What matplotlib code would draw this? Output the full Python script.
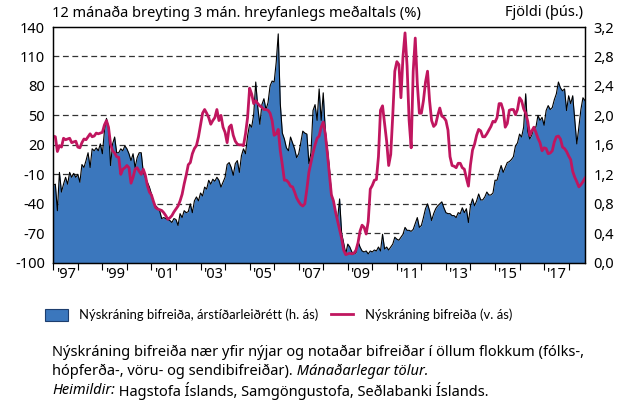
import numpy as np
import matplotlib
matplotlib.use('Agg')
import matplotlib.pyplot as plt
from matplotlib.patches import Patch
from matplotlib.lines import Line2D

plt.rcParams['font.family'] = ['Noto Sans', 'DejaVu Sans']
plt.rcParams['font.size'] = 10
plt.rcParams['lines.scale_dashes'] = False

# monthly data, Jan 1997 - Sep 2018
start_year = 1997

# new registrations, seasonally adjusted, 12-month change of 3-month MA (%)
area_pct = [
    -21, -20, -47, -8, -28, -20, -13, -20, -8, -13, -9, -13,
    -10, -18, 0, -3, 4, 12, -3, 16, 14, 17, 14, 21,
    11, 34, 47, 38, -1, 21, 28, 12, 12, 16, 14, 19,
    16, 11, 4, 11, -3, 7, 12, 12, -8, -13, -18, -23,
    -30, -38, -42, -44, -47, -55, -54, -55, -56, -57, -59, -55,
    -56, -62, -50, -54, -47, -49, -48, -40, -49, -37, -33, -37,
    -29, -32, -23, -25, -16, -20, -15, -17, -13, -16, -23, -18,
    -13, 0, 2, -3, -11, 1, 4, -8, 9, 16, 11, 29,
    41, 38, 51, 84, 58, 41, 61, 67, 56, 63, 80, 85,
    84, 104, 133, 62, 32, 26, 17, 14, 28, 22, 16, 7,
    11, 22, 34, 32, 31, 1, 12, 55, 61, 45, 77, 45,
    73, 35, 17, -3, -30, -37, -47, -56, -35, -70, -80, -91,
    -81, -84, -89, -91, -90, -78, -84, -88, -89, -88, -91, -88,
    -89, -87, -88, -84, -88, -71, -86, -84, -87, -84, -81, -74,
    -76, -77, -74, -71, -64, -67, -67, -68, -66, -60, -54, -64,
    -62, -54, -45, -40, -47, -57, -50, -45, -42, -40, -38, -44,
    -49, -50, -50, -52, -52, -54, -49, -50, -44, -49, -45, -59,
    -42, -35, -42, -37, -30, -36, -36, -33, -28, -31, -31, -29,
    -16, -16, -8, -1, -8, -3, 2, 3, 5, 8, 19, 22,
    31, 28, 38, 72, 34, 26, 30, 38, 38, 50, 45, 48,
    40, 55, 60, 56, 58, 66, 72, 84, 78, 75, 77, 55,
    70, 62, 70, 45, 21, 38, 56, 68, 65,
]

# new registrations, thousands per month
regs_thous = [
    1.72, 1.71, 1.51, 1.59, 1.57, 1.69, 1.67, 1.68, 1.69, 1.63, 1.64, 1.65,
    1.57, 1.56, 1.63, 1.68, 1.67, 1.71, 1.75, 1.71, 1.72, 1.76, 1.75, 1.76,
    1.77, 1.87, 1.93, 1.84, 1.61, 1.52, 1.49, 1.44, 1.43, 1.20, 1.27, 1.29,
    1.32, 1.29, 1.08, 1.16, 1.27, 1.29, 1.24, 1.20, 1.27, 1.19, 1.05, 0.96,
    0.92, 0.83, 0.75, 0.73, 0.72, 0.71, 0.68, 0.64, 0.59, 0.61, 0.64, 0.69,
    0.73, 0.77, 0.84, 0.93, 1.07, 1.19, 1.33, 1.36, 1.48, 1.55, 1.59, 1.71,
    1.87, 2.03, 2.08, 2.03, 1.97, 1.88, 1.93, 1.97, 2.08, 1.93, 2.00, 1.84,
    1.77, 1.63, 1.84, 1.87, 1.73, 1.65, 1.61, 1.60, 1.60, 1.59, 1.75, 1.97,
    2.37, 2.29, 2.16, 2.20, 2.16, 2.13, 2.11, 2.08, 2.08, 2.07, 2.03, 1.93,
    1.73, 1.75, 1.81, 1.52, 1.33, 1.12, 1.12, 1.09, 1.04, 1.03, 0.96, 0.88,
    0.83, 0.79, 0.77, 0.80, 1.00, 1.23, 1.36, 1.49, 1.60, 1.69, 1.72, 1.84,
    1.91, 1.75, 1.49, 1.20, 0.92, 0.84, 0.69, 0.57, 0.45, 0.33, 0.17, 0.11,
    0.12, 0.13, 0.12, 0.13, 0.17, 0.27, 0.43, 0.51, 0.48, 0.39, 0.56, 1.00,
    1.05, 1.12, 1.13, 1.44, 2.07, 2.13, 1.89, 1.65, 1.32, 1.47, 2.00, 2.60,
    2.73, 2.69, 2.24, 2.80, 3.12, 2.67, 1.93, 1.56, 2.60, 3.05, 2.43, 2.03,
    2.03, 2.20, 2.45, 2.60, 2.20, 1.93, 1.85, 1.88, 2.00, 2.10, 1.99, 1.97,
    1.93, 1.80, 1.44, 1.32, 1.31, 1.29, 1.35, 1.35, 1.29, 1.27, 1.15, 1.04,
    1.33, 1.53, 1.61, 1.73, 1.81, 1.79, 1.71, 1.71, 1.75, 1.80, 1.85, 1.92,
    1.91, 1.97, 2.16, 2.16, 2.07, 1.84, 1.89, 2.07, 2.08, 2.08, 2.01, 2.08,
    2.24, 2.20, 2.09, 2.03, 1.92, 1.73, 1.79, 1.84, 1.77, 1.69, 1.63, 1.52,
    1.56, 1.55, 1.48, 1.49, 1.52, 1.64, 1.71, 1.72, 1.68, 1.57, 1.55, 1.51,
    1.45, 1.40, 1.24, 1.16, 1.10, 1.03, 1.06, 1.10, 1.15,
]

left_ticks = [-100, -70, -40, -10, 20, 50, 80, 110, 140]
right_ticks = [0.0, 0.4, 0.8, 1.2, 1.6, 2.0, 2.4, 2.8, 3.2]
year_labels = ["'97", "'99", "'01", "'03", "'05", "'07", "'09", "'11", "'13", "'15", "'17"]

title = '12 mánaða breyting 3 mán. hreyfanlegs meðaltals (%)'
right_title = 'Fjöldi (þús.)'
label_area = 'Nýskráning bifreiða, árstíðarleiðrétt (h. ás)'
label_line = 'Nýskráning bifreiða (v. ás)'

blue = '#3b77bd'
pink = '#c0165f'

t = start_year + np.arange(len(area_pct)) / 12.0

fig = plt.figure(figsize=(6.27, 4.03), dpi=100)
ax = fig.add_axes([0.085, 0.348, 0.848, 0.585])

for v in left_ticks[1:-1]:
    ax.axhline(v, color='#333333', lw=0.9, dashes=(4.2, 2.6), zorder=0.5)

ax.fill_between(t, -100, area_pct, color=blue, lw=0, zorder=1)
ax.plot(t, area_pct, color='black', lw=0.8, zorder=2)
ax.set_xlim(start_year, t[-1])
ax.set_ylim(-100, 140)
ax.set_yticks(left_ticks)
ax.set_yticklabels([str(v) for v in left_ticks])

ax2 = ax.twinx()
ax2.plot(t, regs_thous, color=pink, lw=2.0, solid_joinstyle='round')
ax2.set_ylim(0, 3.2)
ax2.set_yticks(right_ticks)
ax2.set_yticklabels([f'{v:.1f}'.replace('.', ',') for v in right_ticks])

years = np.arange(start_year, 2019)
ax.set_xticks(years)
ax.set_xticklabels([])
ax.set_xticks(np.arange(start_year, 2018, 2) + 0.5, minor=True)
ax.set_xticklabels(year_labels, minor=True)
ax.tick_params(axis='x', which='major', length=5, width=0.8, direction='out')
ax.tick_params(axis='x', which='minor', length=0, pad=3, labelsize=10.5)
ax.tick_params(axis='y', length=0, pad=6, labelsize=10.5)
ax2.tick_params(axis='y', length=0, pad=6, labelsize=10.5)
for a in (ax, ax2):
    for s in a.spines.values():
        s.set_linewidth(0.9)

fig.text(52 / 627, 1 - 13 / 403, title, ha='left', va='center', fontsize=10.5)
fig.text(583 / 627, 1 - 13 / 403, right_title, ha='right', va='center', fontsize=10.5)

handles = [Patch(facecolor=blue, edgecolor='#1d3e6e', lw=0.8),
           Line2D([], [], color=pink, lw=2)]
fig.legend(handles, [label_area, label_line], ncol=2, frameon=False,
           loc='center left', bbox_to_anchor=(45 / 627, 1 - 315 / 403),
           borderpad=0, borderaxespad=0, handlelength=1.75, handleheight=1.0,
           handletextpad=0.85, columnspacing=0.95,
           prop={'family': ['Lato', 'DejaVu Sans'], 'size': 9.4})

renderer = fig.canvas.get_renderer()


def note_line(y, parts):
    x = 52 / 627
    for txt, style in parts:
        tt = fig.text(x, y, txt, ha='left', va='center', style=style, fontsize=10.5)
        bb = tt.get_window_extent(renderer)
        x = fig.transFigure.inverted().transform((bb.x1, bb.y0))[0]


note_line(1 - 352 / 403, [('Nýskráning bifreiða nær yfir nýjar og notaðar bifreiðar í öllum flokkum (fólks-,', 'normal')])
note_line(1 - 371 / 403, [('hópferða-, vöru- og sendibifreiðar).', 'normal'),
                          (' Mánaðarlegar tölur.', 'italic')])
note_line(1 - 391 / 403, [('Heimildir:', 'italic'),
                          (' Hagstofa Íslands, Samgöngustofa, Seðlabanki Íslands.', 'normal')])

fig.savefig('out.png', dpi=100)
